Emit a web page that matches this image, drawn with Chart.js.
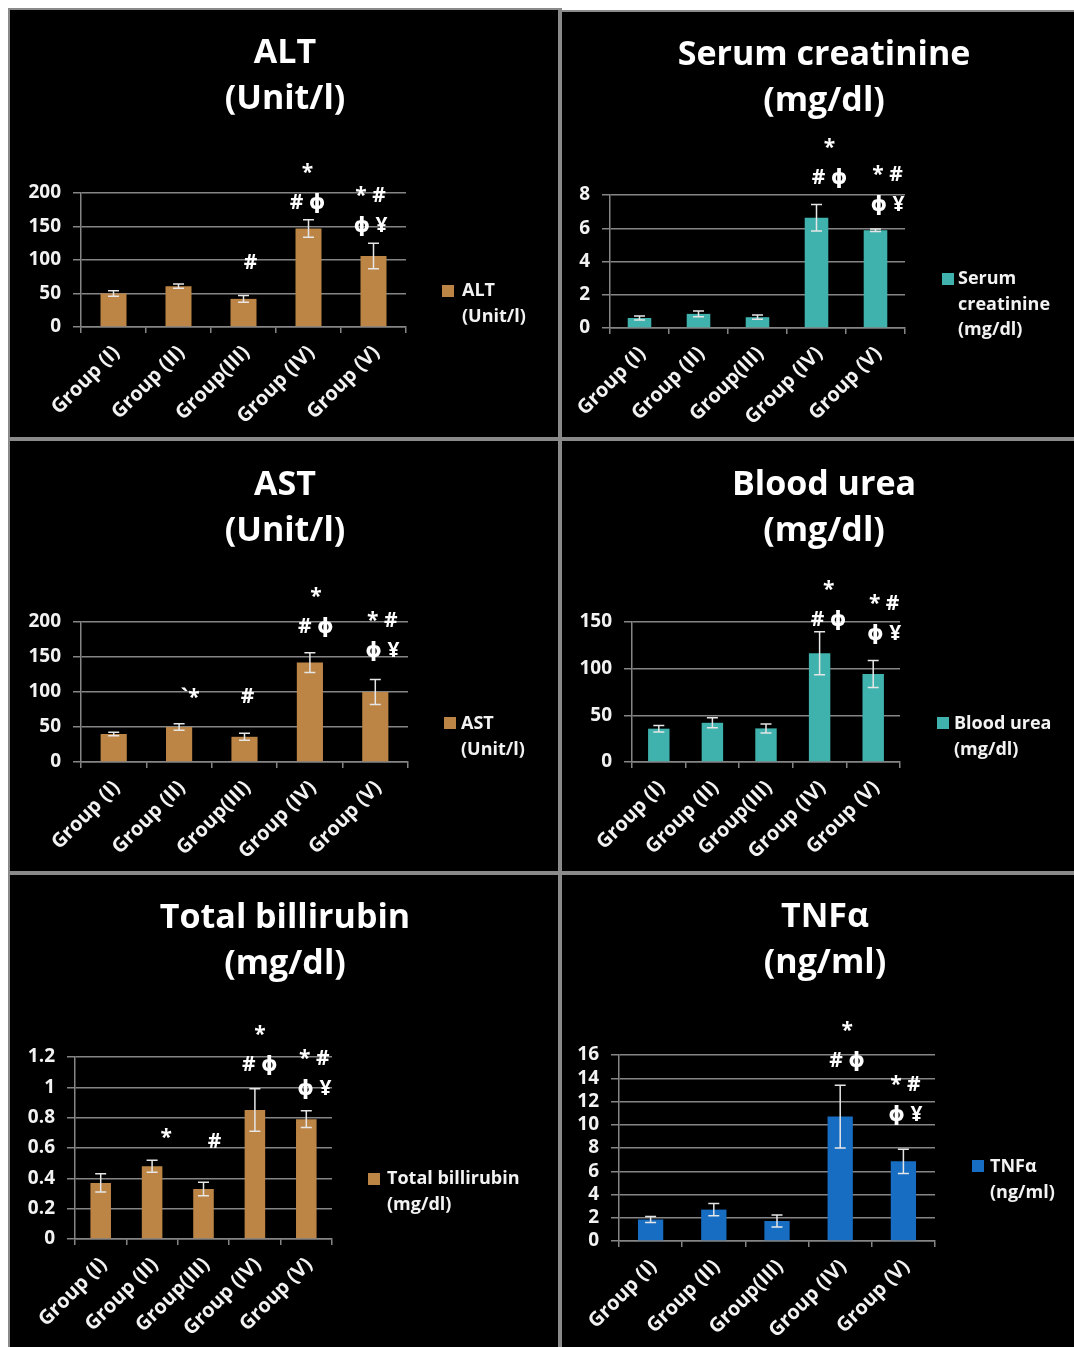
<!DOCTYPE html>
<html>
<head>
<meta charset="utf-8">
<script src="https://cdn.jsdelivr.net/npm/chart.js@4.4.1/dist/chart.umd.min.js"></script>
<style>
  html, body { margin: 0; padding: 0; background: #ffffff; }
  body { width: 1074px; height: 1347px; position: relative; overflow: hidden; font-family: 'Open Sans', 'DejaVu Sans', sans-serif; }
  .board { position: absolute; background: #000; }
  .rule { position: absolute; background: #8a8a8a; }
  canvas { position: absolute; }
  .title { position: absolute; width: 520px; margin-left: -260px; text-align: center; color: #ffffff;
           font-weight: 700; font-size: 34px; line-height: 46px; white-space: nowrap; }
  .legend { position: absolute; color: #f2f2f2; font-weight: 700; font-size: 18px; line-height: 26px; white-space: nowrap; }
  .legend i { position: absolute; width: 12px; height: 12px; }
</style>
</head>
<body>
<div class="board" style="left:8px;top:8px;width:552px;height:1339px"></div>
<div class="board" style="left:560px;top:10px;width:514px;height:1337px"></div>
<div class="rule" style="left:8px;top:8px;width:2px;height:1339px"></div>
<div class="rule" style="left:8px;top:8px;width:552px;height:2px"></div>
<div class="rule" style="left:560px;top:10px;width:514px;height:2px"></div>
<div class="rule" style="left:558px;top:8px;width:4px;height:1339px"></div>
<div class="rule" style="left:8px;top:437px;width:1066px;height:4px"></div>
<div class="rule" style="left:8px;top:871px;width:1066px;height:4px"></div>

<script>
// ---- data ----
const groups = ['Group (I)', 'Group (II)', 'Group(III)', 'Group (IV)', 'Group (V)'];

const altMean = [50, 61, 42, 147, 106];
const altSd   = [4, 3, 5, 13, 19];
const altTicks = [0, 50, 100, 150, 200];
const altMarks = [[], [], ['#'], ['*', '# ϕ'], ['* #', 'ϕ ¥']];

const creatMean = [0.6, 0.85, 0.65, 6.63, 5.88];
const creatSd   = [0.12, 0.18, 0.13, 0.8, 0.08];
const creatTicks = [0, 2, 4, 6, 8];
const creatMarks = [[], [], [], ['*', '# ϕ'], ['* #', 'ϕ ¥']];

const astMean = [40, 50, 36, 142, 100];
const astSd   = [2.5, 4.5, 5, 14, 18];
const astTicks = [0, 50, 100, 150, 200];
const astMarks = [[], ['`*'], ['#'], ['*', '# ϕ'], ['* #', 'ϕ ¥']];

const ureaMean = [35.7, 42, 36, 116.5, 94.3];
const ureaSd   = [3.5, 5.3, 4.8, 23, 14.5];
const ureaTicks = [0, 50, 100, 150];
const ureaMarks = [[], [], [], ['*', '# ϕ'], ['* #', 'ϕ ¥']];

const biliMean = [0.37, 0.48, 0.33, 0.85, 0.79];
const biliSd   = [0.06, 0.04, 0.045, 0.14, 0.055];
const biliTicks = [0, 0.2, 0.4, 0.6, 0.8, 1, 1.2];
const biliMarks = [[], ['*'], ['#'], ['*', '# ϕ'], ['* #', 'ϕ ¥']];

const tnfMean = [1.85, 2.7, 1.72, 10.7, 6.85];
const tnfSd   = [0.25, 0.53, 0.52, 2.7, 1.05];
const tnfTicks = [0, 2, 4, 6, 8, 10, 12, 14, 16];
const tnfMarks = [[], [], [], ['*', '# ϕ'], ['* #', 'ϕ ¥']];

const altTitle   = ['ALT', '(Unit/l)'];
const creatTitle = ['Serum creatinine', '(mg/dl)'];
const astTitle   = ['AST', '(Unit/l)'];
const ureaTitle  = ['Blood urea', '(mg/dl)'];
const biliTitle  = ['Total billirubin', '(mg/dl)'];
const tnfTitle   = ['TNFα', '(ng/ml)'];

const altLegend   = ['ALT', '(Unit/l)'];
const creatLegend = ['Serum', 'creatinine', '(mg/dl)'];
const astLegend   = ['AST', '(Unit/l)'];
const ureaLegend  = ['Blood urea', '(mg/dl)'];
const biliLegend  = ['Total billirubin', '(mg/dl)'];
const tnfLegend   = ['TNFα', '(ng/ml)'];

// ---- styling ----
const FONT = "'Open Sans', 'DejaVu Sans', sans-serif";
const GRID = '#858585';
const TEXT = '#f2f2f2';
const BROWN = '#bc8546';
const TEAL = '#3fb2ad';
const BLUE = '#176dc2';

// error bars: mean ± sd, drawn over the bars
const errorBars = {
  id: 'errorBars',
  afterDatasetsDraw(chart) {
    const ctx = chart.ctx, y = chart.scales.y;
    chart.data.datasets.forEach((ds, di) => {
      chart.getDatasetMeta(di).data.forEach((bar, i) => {
        const m = ds.data[i], e = ds.errors[i];
        const yt = y.getPixelForValue(m + e), yb = y.getPixelForValue(m - e);
        ctx.save();
        ctx.strokeStyle = '#e6e6e6';
        ctx.lineWidth = 1.5;
        ctx.beginPath();
        ctx.moveTo(bar.x, yt); ctx.lineTo(bar.x, yb);
        ctx.moveTo(bar.x - 5.5, yt); ctx.lineTo(bar.x + 5.5, yt);
        ctx.moveTo(bar.x - 5.5, yb); ctx.lineTo(bar.x + 5.5, yb);
        ctx.stroke();
        ctx.restore();
      });
    });
  }
};

// significance symbols stacked above each error bar
const markText = {
  id: 'markText',
  afterDatasetsDraw(chart, args, opts) {
    const ctx = chart.ctx, y = chart.scales.y;
    const ds = chart.data.datasets[0];
    const bars = chart.getDatasetMeta(0).data;
    ctx.save();
    ctx.fillStyle = '#ffffff';
    ctx.font = "bold 21px " + FONT;
    ctx.textAlign = 'center';
    ctx.textBaseline = 'middle';
    ds.marks.forEach((lines, i) => {
      if (!lines.length) return;
      const off = opts.offsets[i] || [0, -20];
      const base = y.getPixelForValue(ds.data[i] + ds.errors[i]) + off[1];
      const x = bars[i].x + off[0];
      lines.forEach((t, k) => {
        ctx.fillText(t, x, base - (lines.length - 1 - k) * opts.gap);
      });
    });
    ctx.restore();
  }
};

function addTitle(lines, cx, top) {
  const d = document.createElement('div');
  d.className = 'title';
  d.style.left = cx + 'px';
  d.style.top = top + 'px';
  d.innerHTML = lines.map(t => '<div>' + t + '</div>').join('');
  document.body.appendChild(d);
}

function addLegend(lines, color, L) {
  const d = document.createElement('div');
  d.className = 'legend';
  d.style.left = L.textX + 'px';
  d.style.top = L.top + 'px';
  d.style.lineHeight = (L.lh || 26) + 'px';
  const sw = document.createElement('i');
  sw.style.background = color;
  sw.style.left = (L.boxX - L.textX) + 'px';
  sw.style.top = (L.boxY - L.top) + 'px';
  d.appendChild(sw);
  lines.forEach(t => { const s = document.createElement('div'); s.textContent = t; d.appendChild(s); });
  document.body.appendChild(d);
}

function buildPanel(spec) {
  const C = spec.canvas, A = spec.area;
  const cv = document.createElement('canvas');
  cv.width = C.w; cv.height = C.h;
  cv.style.left = C.x + 'px'; cv.style.top = C.y + 'px';
  cv.style.width = C.w + 'px'; cv.style.height = C.h + 'px';
  document.body.appendChild(cv);
  const ca = { left: A.left - C.x, right: A.right - C.x, top: A.top - C.y, bottom: A.bottom - C.y };
  const ticks = spec.ticks;
  new Chart(cv, {
    type: 'bar',
    data: {
      labels: groups,
      datasets: [{
        label: spec.legend.join(' '),
        data: spec.mean,
        errors: spec.sd,
        marks: spec.marks,
        backgroundColor: spec.color,
        borderWidth: 0,
        barPercentage: 0.4,
        categoryPercentage: 1
      }]
    },
    options: {
      responsive: false,
      animation: false,
      devicePixelRatio: 1,
      layout: { padding: { left: 0, top: ca.top, right: C.w - ca.right, bottom: 0 } },
      plugins: {
        legend: { display: false },
        title: { display: false },
        tooltip: { enabled: false },
        markText: { offsets: spec.markOffsets, gap: 30 }
      },
      scales: {
        x: {
          grid: { display: true, drawOnChartArea: false, drawTicks: true, tickLength: 6, color: GRID, lineWidth: 1.5, offset: true },
          border: { display: true, color: GRID, width: 1.5 },
          ticks: { color: TEXT, font: { family: FONT, size: 20, weight: 'bold' }, minRotation: 45, maxRotation: 45, autoSkip: false, padding: 8, labelOffset: 3 },
          afterFit(s) { s.height = C.h - ca.bottom; s.paddingLeft = 0; s.paddingRight = 0; }
        },
        y: {
          min: ticks[0],
          max: ticks[ticks.length - 1],
          afterBuildTicks(s) { s.ticks = ticks.map(v => ({ value: v })); },
          ticks: { color: TEXT, font: { family: FONT, size: 19, weight: 'bold' }, padding: 12, autoSkip: false,
                   callback: v => String(+Number(v).toFixed(6)) },
          grid: { color: GRID, lineWidth: 1.5, tickLength: 8 },
          border: { display: true, color: GRID, width: 1.5 },
          afterFit(s) { s.width = ca.left; }
        }
      }
    },
    plugins: [errorBars, markText]
  });
  addTitle(spec.title, spec.titleX, spec.titleTop);
  addLegend(spec.legend, spec.color, spec.legendPos);
}

const panels = [
  { title: altTitle, legend: altLegend, mean: altMean, sd: altSd, ticks: altTicks, marks: altMarks, color: BROWN,
    canvas: { x: 10, y: 10, w: 548, h: 427 }, area: { left: 81, right: 406, top: 193, bottom: 327 },
    titleX: 285, titleTop: 27, legendPos: { boxX: 442, boxY: 285, textX: 462, top: 276 },
    markOffsets: [null, null, [7, -32], [-1, -17], [-3, -17]] },
  { title: creatTitle, legend: creatLegend, mean: creatMean, sd: creatSd, ticks: creatTicks, marks: creatMarks, color: TEAL,
    canvas: { x: 562, y: 12, w: 512, h: 425 }, area: { left: 610, right: 905, top: 195, bottom: 328 },
    titleX: 824, titleTop: 29, legendPos: { boxX: 942, boxY: 273, textX: 958, top: 265, lh: 25.5 },
    markOffsets: [null, null, null, [13, -26], [12, -24]] },
  { title: astTitle, legend: astLegend, mean: astMean, sd: astSd, ticks: astTicks, marks: astMarks, color: BROWN,
    canvas: { x: 10, y: 441, w: 548, h: 430 }, area: { left: 81, right: 408, top: 622, bottom: 762 },
    titleX: 285, titleTop: 459, legendPos: { boxX: 444, boxY: 717, textX: 461, top: 709 },
    markOffsets: [null, [11, -26], [3, -36], [6, -26], [7, -28]] },
  { title: ureaTitle, legend: ureaLegend, mean: ureaMean, sd: ureaSd, ticks: ureaTicks, marks: ureaMarks, color: TEAL,
    canvas: { x: 562, y: 441, w: 512, h: 430 }, area: { left: 632, right: 900, top: 622, bottom: 762 },
    titleX: 824, titleTop: 459, legendPos: { boxX: 937, boxY: 717, textX: 954, top: 709 },
    markOffsets: [null, null, null, [9, -12], [11, -26]] },
  { title: biliTitle, legend: biliLegend, mean: biliMean, sd: biliSd, ticks: biliTicks, marks: biliMarks, color: BROWN,
    canvas: { x: 10, y: 875, w: 548, h: 472 }, area: { left: 75, right: 332, top: 1057, bottom: 1239 },
    titleX: 285, titleTop: 892, legendPos: { boxX: 368, boxY: 1173, textX: 387, top: 1164 },
    markOffsets: [null, [14, -22], [11, -40], [5, -24], [8, -22]] },
  { title: tnfTitle, legend: tnfLegend, mean: tnfMean, sd: tnfSd, ticks: tnfTicks, marks: tnfMarks, color: BLUE,
    canvas: { x: 562, y: 875, w: 512, h: 472 }, area: { left: 619, right: 935, top: 1055, bottom: 1241 },
    titleX: 825, titleTop: 891, legendPos: { boxX: 972, boxY: 1160, textX: 990, top: 1152 },
    markOffsets: [null, null, null, [7, -24], [2, -34]] }
];

panels.forEach(buildPanel);
</script>
</body>
</html>
